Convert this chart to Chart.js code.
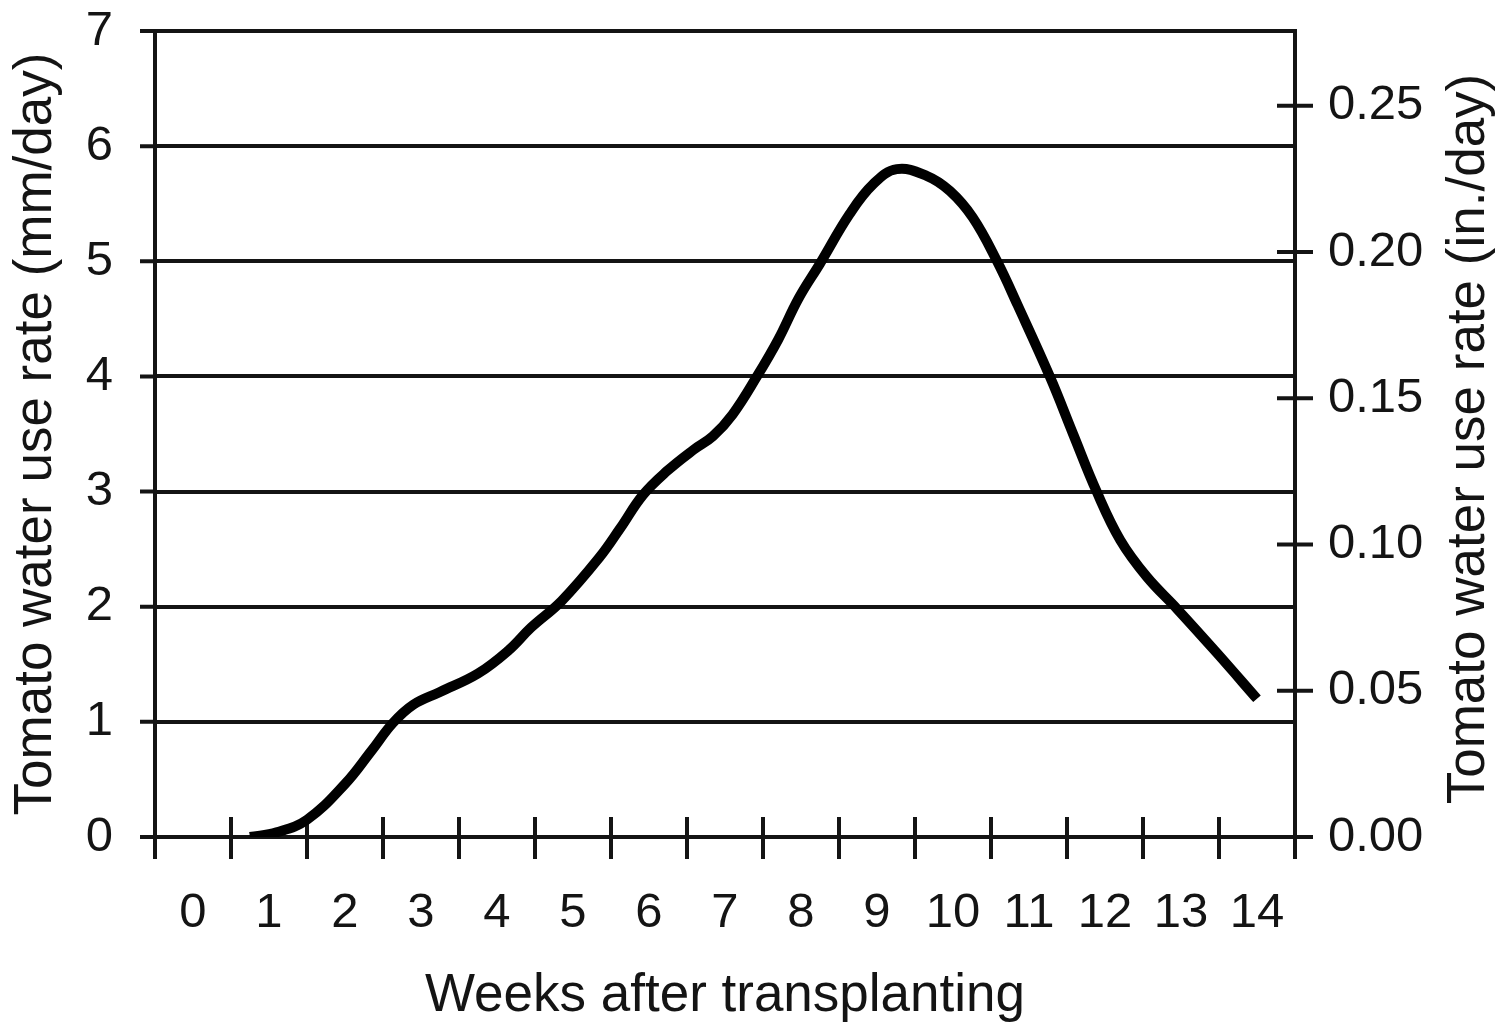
<!DOCTYPE html>
<html>
<head>
<meta charset="utf-8">
<title>Tomato water use rate</title>
<script src="https://cdn.jsdelivr.net/npm/chart.js@4.4.1/dist/chart.umd.min.js"></script>
<style>
  html, body { margin: 0; padding: 0; background: #fff; }
  #wrap { width: 1505px; height: 1026px; position: relative; }
</style>
</head>
<body>
<div id="wrap"><canvas id="chart"></canvas></div>
<script>
// Tomato water use rate vs weeks after transplanting

// curve (weeks, mm/day)
const weeks = [0.75, 1.1, 1.5, 2.0, 2.35, 2.63, 2.9, 3.25, 3.75, 4.15, 4.45, 4.85, 5.35, 5.62, 5.92,
  6.24, 6.58, 6.84, 7.1, 7.42, 7.7, 7.97, 8.25, 8.64, 8.95, 9.26, 9.66, 9.96, 10.26, 10.58,
  10.85, 11.28, 11.58, 11.89, 12.2, 12.55, 12.95, 13.47, 14.0];
const mmPerDay = [0, 0.04, 0.15, 0.46, 0.75, 0.99, 1.15, 1.26, 1.42, 1.62, 1.82, 2.05, 2.43, 2.68, 2.97,
  3.18, 3.36, 3.48, 3.67, 4.0, 4.32, 4.68, 4.98, 5.41, 5.67, 5.8, 5.74, 5.61, 5.38, 5.0,
  4.62, 3.99, 3.5, 3.0, 2.58, 2.26, 1.98, 1.6, 1.2];

// axis ticks
const weekLabels = [0, 1, 2, 3, 4, 5, 6, 7, 8, 9, 10, 11, 12, 13, 14];
const weekEdges = [-0.5, 0.5, 1.5, 2.5, 3.5, 4.5, 5.5, 6.5, 7.5, 8.5, 9.5, 10.5, 11.5, 12.5, 13.5, 14.5];
const mmTicks = [0, 1, 2, 3, 4, 5, 6, 7];
const inTicks = [0, 0.05, 0.10, 0.15, 0.20, 0.25];

const MM_PER_IN = 25.4;
const INK = '#141414';
const FONT = "'Liberation Sans', Arial, Helvetica, sans-serif";

// tick marks that cross the axis lines, plus the right-hand title
const crossTicks = {
  id: 'crossTicks',
  beforeDatasetsDraw(chart) {
    const { ctx, chartArea, scales } = chart;
    ctx.save();
    ctx.strokeStyle = INK;
    ctx.lineWidth = 4;
    ctx.beginPath();
    weekEdges.forEach(v => {
      const x = scales.x.getPixelForValue(v);
      ctx.moveTo(x, chartArea.bottom - 20);
      ctx.lineTo(x, chartArea.bottom + 22);
    });
    inTicks.forEach(v => {
      const y = scales.y2.getPixelForValue(v);
      ctx.moveTo(chartArea.right - 18, y);
      ctx.lineTo(chartArea.right + 18, y);
    });
    // short stubs left of the mm axis
    mmTicks.forEach(v => {
      const y = scales.y.getPixelForValue(v);
      ctx.moveTo(chartArea.left - 15, y);
      ctx.lineTo(chartArea.left, y);
    });
    ctx.stroke();
    ctx.restore();
  },
  afterDraw(chart) {
    const { ctx, chartArea } = chart;
    ctx.save();
    ctx.fillStyle = INK;
    ctx.font = '53px ' + FONT;
    ctx.textAlign = 'center';
    ctx.textBaseline = 'middle';
    ctx.translate(1469, (chartArea.top + chartArea.bottom) / 2 + 5);
    ctx.rotate(-Math.PI / 2);
    ctx.fillText('Tomato water use rate (in./day)', 0, 0);
    ctx.restore();
  }
};

const ctx = document.getElementById('chart').getContext('2d');
new Chart(ctx, {
  type: 'line',
  data: {
    datasets: [{
      data: weeks.map((w, i) => ({ x: w, y: mmPerDay[i] })),
      borderColor: '#000',
      borderWidth: 10,
      borderCapStyle: 'butt',
      borderJoinStyle: 'round',
      pointRadius: 0,
      fill: false,
      tension: 0.4,
      yAxisID: 'y'
    }]
  },
  options: {
    responsive: true,
    maintainAspectRatio: false,
    animation: false,
    devicePixelRatio: 1,
    layout: { padding: { top: 31, left: 0, right: 0, bottom: 0 } },
    plugins: { legend: { display: false }, tooltip: { enabled: false } },
    scales: {
      x: {
        type: 'linear',
        min: -0.5,
        max: 14.5,
        afterBuildTicks: s => { s.ticks = weekLabels.map(v => ({ value: v })); },
        afterFit: s => { s.height = 189; },
        grid: { display: false, drawTicks: false },
        border: { display: false },
        ticks: {
          color: INK,
          padding: 47,
          font: { family: FONT, size: 49 },
          maxRotation: 0,
          callback: v => String(v)
        },
        title: {
          display: true,
          text: 'Weeks after transplanting',
          color: INK,
          font: { family: FONT, size: 53, lineHeight: 1 },
          padding: { top: 0, bottom: 3 }
        }
      },
      y: {
        position: 'left',
        min: 0,
        max: 7,
        afterBuildTicks: s => { s.ticks = mmTicks.map(v => ({ value: v })); },
        afterFit: s => { s.width = 155; },
        // tick spacing comes from tickLength, the visible stubs are drawn by the plugin
        grid: { color: INK, lineWidth: 4, tickLength: 42, drawTicks: true, tickColor: 'rgba(0,0,0,0)' },
        border: { display: true, color: INK, width: 4 },
        ticks: {
          color: INK,
          padding: 0,
          font: { family: FONT, size: 49 }
        },
        title: {
          display: true,
          text: 'Tomato water use rate (mm/day)',
          color: INK,
          font: { family: FONT, size: 53, lineHeight: 1 },
          padding: { top: 10, bottom: 0 }
        }
      },
      y2: {
        position: 'right',
        min: 0,
        max: 7 / MM_PER_IN,
        afterBuildTicks: s => { s.ticks = inTicks.map(v => ({ value: v })); },
        afterFit: s => { s.width = 210; },
        grid: { display: false, drawTicks: true, tickLength: 33 },
        border: { display: true, color: INK, width: 4 },
        ticks: {
          color: INK,
          padding: 0,
          font: { family: FONT, size: 49 },
          callback: v => Number(v).toFixed(2)
        }
      }
    }
  },
  plugins: [crossTicks]
});
</script>
</body>
</html>
